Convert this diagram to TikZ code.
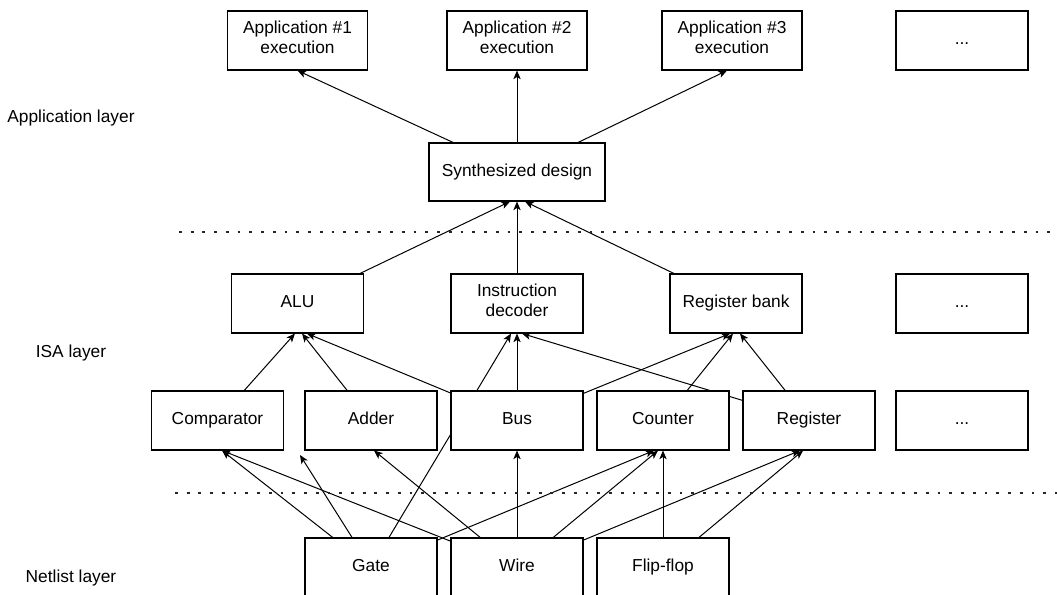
\documentclass[tikz,border=0pt]{standalone}
\usepackage{fontspec}
\setmainfont{Liberation Sans}
\usetikzlibrary{arrows.meta}
\pgfdeclarelayer{background}
\pgfsetlayers{background,main}
\tikzset{
  box/.style={draw=black, line width=0.8pt, fill=white, rectangle, inner sep=0pt,
    minimum width=99pt, minimum height=44.25pt, align=center,
    font=\fontsize{13pt}{15pt}\selectfont, execute at begin node=\strut},
  widebox/.style={box, minimum width=105pt},
  synthbox/.style={box, minimum width=132pt, minimum height=43.5pt},
  layerlabel/.style={inner sep=0pt, font=\fontsize{13pt}{15pt}\selectfont},
  conn/.style={draw=black, line width=0.75pt, -{Stealth[length=6.5pt,width=5.5pt,inset=1.7pt]}},
  layersep/.style={draw=black!85, line width=2.1pt, dash pattern=on 2.1pt off 6.7pt}
}
\begin{document}
\begin{tikzpicture}[x=0.75pt,y=-0.75pt]
\useasboundingbox (0,0) rectangle (1057,594);
\clip (0,0) rectangle (1057,594);

% application layer
\node[widebox] (app1) at (297.5,40.5) {Application \#1\\execution};
\node[widebox] (app2) at (517,40.5) {Application \#2\\execution};
\node[widebox] (app3) at (732,40.5) {Application \#3\\execution};
\node[box] (appdots) at (962,40.5) {...};
\node[synthbox] (synth) at (517,172) {Synthesized design};

% ISA layer
\node[box] (alu) at (297.5,303.5) {ALU};
\node[box] (idec) at (517,303.5) {Instruction\\decoder};
\node[box] (rbank) at (736,303.5) {Register bank};
\node[box] (isadots) at (962,303.5) {...};

\node[box] (comp) at (217.5,420.5) {Comparator};
\node[box] (adder) at (371,420.5) {Adder};
\node[box] (bus) at (517,420.5) {Bus};
\node[box] (counter) at (663,420.5) {Counter};
\node[box] (reg) at (809,420.5) {Register};
\node[box] (rowdots) at (962,420.5) {...};

% netlist layer
\node[box] (gate) at (371,567.5) {Gate};
\node[box] (wire) at (517,567.5) {Wire};
\node[box] (flip) at (663,567.5) {Flip-flop};

% layer labels
\node[layerlabel] (lapp) at (71,118) {Application layer};
\node[layerlabel] (lisa) at (71,353) {ISA layer};
\node[layerlabel] (lnet) at (71,578) {Netlist layer};

% separators
\draw[layersep] (179,232) -- (1057,232);
\draw[layersep] (175,493) -- (1057,493);

\coordinate (dangle) at (300,455);

\begin{pgfonlayer}{background}
  % to applications
  \draw[conn] (synth) -- (app1.south);
  \draw[conn] (synth) -- (app2.south);
  \draw[conn] (synth) -- ([xshift=-3.75pt]app3.south);
  % ISA to synth
  \draw[conn] (alu) -- ([xshift=-5.25pt]synth.south);
  \draw[conn] (idec) -- (synth.south);
  \draw[conn] (rbank) -- ([xshift=6pt]synth.south);
  % to ALU
  \draw[conn] (comp) -- ([xshift=-1.9pt]alu.south);
  \draw[conn] (adder) -- ([xshift=3.4pt]alu.south);
  \draw[conn] (bus) -- ([xshift=7.1pt]alu.south);
  % to instruction decoder
  \draw[conn] (gate) -- ([xshift=-4.5pt]idec.south);
  \draw[conn] (bus) -- (idec.south);
  \draw[conn] (reg) -- ([xshift=3.75pt]idec.south);
  % to register bank
  \draw[conn] (bus) -- ([xshift=-4.5pt]rbank.south);
  \draw[conn] (counter) -- ([xshift=-2.25pt]rbank.south);
  \draw[conn] (reg) -- ([xshift=3pt]rbank.south);
  % netlist to second row
  \draw[conn] (gate) -- ([xshift=3.4pt]comp.south);
  \draw[conn] (gate) -- (dangle);
  \draw[conn] (wire) -- ([xshift=3.4pt]comp.south);
  \draw[conn] (wire) -- ([xshift=2.25pt]adder.south);
  \draw[conn] (wire) -- (bus.south);
  \draw[conn] (gate) -- ([xshift=-6.75pt]counter.south);
  \draw[conn] (wire) -- ([xshift=-3.75pt]counter.south);
  \draw[conn] (flip) -- (counter.south);
  \draw[conn] (wire) -- ([xshift=-6.75pt]reg.south);
  \draw[conn] (flip) -- ([xshift=-4.5pt]reg.south);
\end{pgfonlayer}
\end{tikzpicture}
\end{document}
